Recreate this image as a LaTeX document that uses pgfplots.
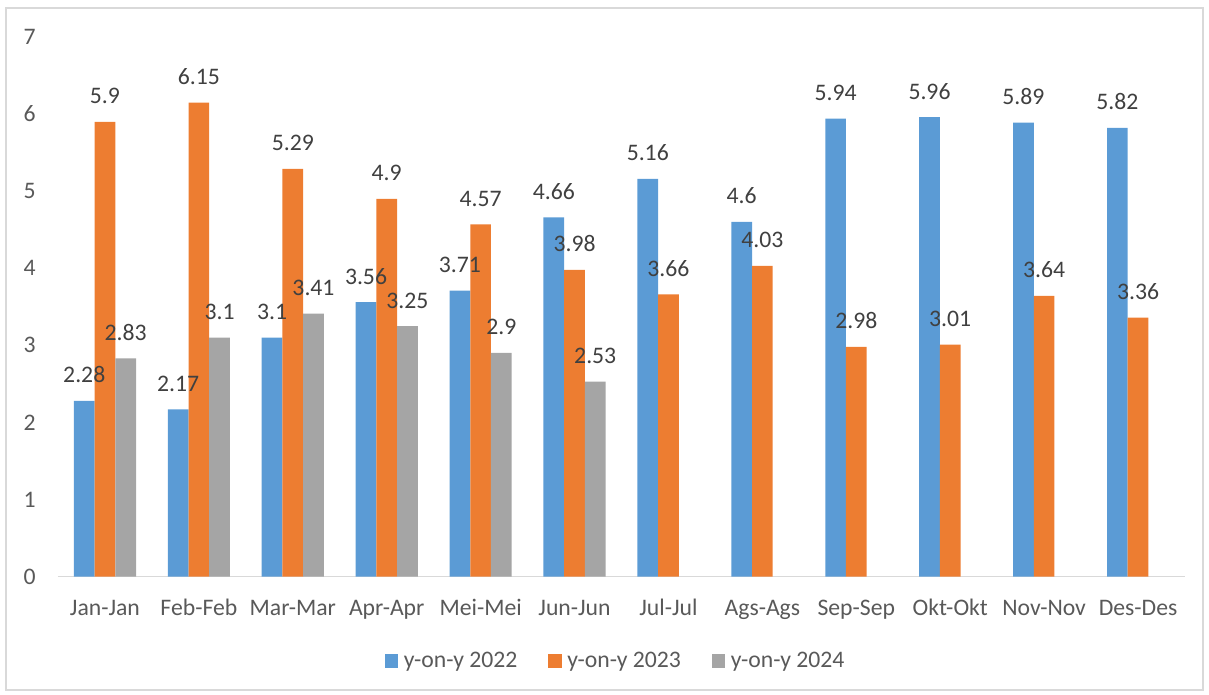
\documentclass[border=0pt]{standalone}
\usepackage{fontspec}
\setmainfont{Carlito}
\usepackage{pgfplots}
\pgfplotsset{compat=1.18}

\definecolor{c22}{HTML}{5B9BD5}
\definecolor{c23}{HTML}{ED7D31}
\definecolor{c24}{HTML}{A5A5A5}
\definecolor{tickgray}{HTML}{595959}
\definecolor{lblgray}{HTML}{404040}
\definecolor{framegray}{HTML}{D9D9D9}

\begin{document}
\begin{tikzpicture}
% page = 1209 x 695 px, 1 px = 0.5bp
\path (0bp,0bp) rectangle (604.5bp,347.5bp);
\draw[framegray, line width=0.75bp] (3bp,2.5bp) rectangle (601.5bp,343.5bp);
\begin{axis}[
    at={(29bp,59.25bp)}, anchor=south west,
    scale only axis,
    width=563.5bp, height=269.75bp,
    font=\fontsize{11.85bp}{14bp}\selectfont,
    /pgf/number format/assume math mode=true,
    ybar=0pt, bar width=10.35bp,
    xmin=-0.5, xmax=11.5,
    ymin=0, ymax=7,
    ytick={0,1,...,7},
    xtick={0,1,...,11},
    xticklabels={Jan-Jan,Feb-Feb,Mar-Mar,Apr-Apr,Mei-Mei,Jun-Jun,
                 Jul-Jul,Ags-Ags,Sep-Sep,Okt-Okt,Nov-Nov,Des-Des},
    axis lines*=left,
    x axis line style={draw=framegray, line width=0.75bp},
    y axis line style={draw=none},
    major tick length=0pt,
    tick label style={text=tickgray},
    yticklabel style={anchor=east, inner sep=0pt, xshift=-11bp},
    xticklabel style={anchor=base, inner sep=0pt, yshift=-19.4bp},
    clip=false,
    nodes near coords,
    every node near coord/.append style={anchor=base, inner sep=0pt,
        yshift=9bp, text=lblgray},
    legend columns=3,
    legend style={at={(0.4938,-0.1566)}, anchor=center, draw=none,
        fill=none, inner sep=0pt, nodes={inner sep=0pt, text=tickgray}},
    /tikz/every odd column/.append style={column sep=2.8bp},
    /tikz/every even column/.append style={column sep=15.3bp},
    legend image code/.code={\fill[#1] (0bp,-3.425bp) rectangle (6.85bp,3.425bp);},
]
\addplot[fill=c22, draw=none] coordinates {
  (0,2.28) (1,2.17) (2,3.1) (3,3.56) (4,3.71) (5,4.66)
  (6,5.16) (7,4.6) (8,5.94) (9,5.96) (10,5.89) (11,5.82)};
\addplot[fill=c23, draw=none] coordinates {
  (0,5.9) (1,6.15) (2,5.29) (3,4.9) (4,4.57) (5,3.98)
  (6,3.66) (7,4.03) (8,2.98) (9,3.01) (10,3.64) (11,3.36)};
\addplot[fill=c24, draw=none] coordinates {
  (0,2.83) (1,3.1) (2,3.41) (3,3.25) (4,2.9) (5,2.53)};
\legend{y-on-y 2022, y-on-y 2023, y-on-y 2024}
\end{axis}
\end{tikzpicture}
\end{document}
